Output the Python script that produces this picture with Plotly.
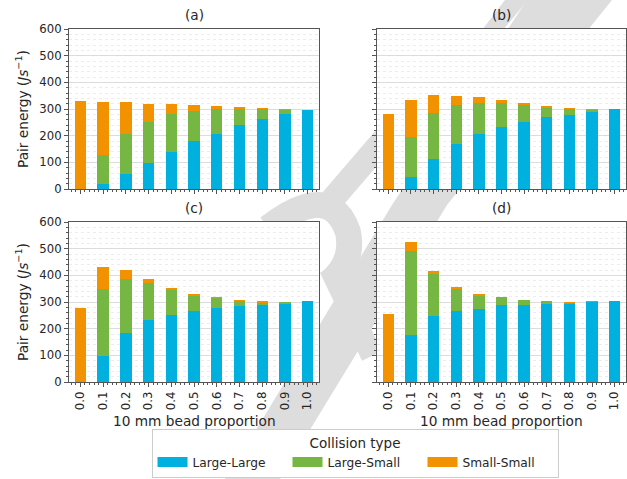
import plotly.graph_objects as go

W, H = 627, 479

# ---- data -------------------------------------------------------------
proportions = [0.0, 0.1, 0.2, 0.3, 0.4, 0.5, 0.6, 0.7, 0.8, 0.9, 1.0]
tick_labels = ["0.0", "0.1", "0.2", "0.3", "0.4", "0.5", "0.6", "0.7", "0.8", "0.9", "1.0"]
collision_types = ["Large-Large", "Large-Small", "Small-Small"]
colors = ["#00b1e0", "#76b743", "#f39200"]
panel_titles = ["(a)", "(b)", "(c)", "(d)"]

a_large_large = [0, 19, 57, 97, 140, 179, 207, 239, 264, 281, 297]
a_large_small = [0, 107, 150, 153, 141, 115, 92, 62, 37, 17, 0]
a_small_small = [329, 200, 119, 70, 39, 21, 12, 4, 1, 2, 0]

b_large_large = [0, 44, 114, 167, 205, 232, 251, 269, 279, 289, 300]
b_large_small = [0, 152, 172, 149, 119, 92, 64, 37, 22, 9, 0]
b_small_small = [281, 136, 68, 34, 21, 8, 5, 3, 1, 1, 0]

c_large_large = [0, 99, 182, 232, 250, 266, 279, 284, 287, 296, 302]
c_large_small = [0, 249, 203, 140, 96, 59, 37, 20, 12, 3, 0]
c_small_small = [277, 83, 34, 13, 5, 6, 2, 3, 3, 0, 0]

d_large_large = [0, 177, 246, 265, 275, 289, 289, 292, 295, 300, 302]
d_large_small = [0, 314, 160, 86, 51, 29, 17, 10, 4, 1, 0]
d_small_small = [256, 33, 10, 4, 1, 0, 0, 0, 1, 0, 0]

panels = [
    (a_large_large, a_large_small, a_small_small),
    (b_large_large, b_large_small, b_small_small),
    (c_large_large, c_large_small, c_small_small),
    (d_large_large, d_large_small, d_small_small),
]

# ---- geometry (pixel boxes of the four axes) -------------------------
boxes = [(69, 319, 29, 189), (377, 626, 29, 189), (69, 319, 222, 382), (377, 626, 222, 382)]

TEXT = "#262626"
AXIS = "#555555"
FONT = "DejaVu Sans"

fig = go.Figure()

for i, series in enumerate(panels):
    xa = "x" if i == 0 else f"x{i + 1}"
    ya = "y" if i == 0 else f"y{i + 1}"
    for name, vals, col in zip(collision_types, series, colors):
        fig.add_trace(go.Bar(
            x=proportions, y=vals, name=name, width=0.05,
            marker=dict(color=col, line=dict(width=0)),
            xaxis=xa, yaxis=ya, showlegend=False,
        ))

# legend entries drawn as wide swatches
for name, col in zip(collision_types, colors):
    fig.add_trace(go.Scatter(
        x=[None], y=[None], mode="lines", name=name,
        line=dict(color=col, width=10), showlegend=True,
    ))

layout = dict(
    width=W, height=H,
    margin=dict(l=0, r=0, t=0, b=0),
    paper_bgcolor="white", plot_bgcolor="white",
    font=dict(family=FONT, color=TEXT, size=12),
    barmode="stack", bargap=0,
    showlegend=True,
    legend=dict(
        orientation="h", traceorder="normal",
        x=355 / W, xanchor="center",
        y=1 - 478 / H, yanchor="bottom",
        bgcolor="white", bordercolor="#cccccc", borderwidth=1,
        font=dict(size=12.2, color=TEXT, family=FONT),
        title=dict(text="Collision type", side="top center",
                   font=dict(size=13.5, color=TEXT, family=FONT)),
        itemwidth=30, entrywidth=90, entrywidthmode="pixels", tracegroupgap=0,
    ),
)

annotations = []

for i, (x0, x1, y0, y1) in enumerate(boxes):
    suffix = "" if i == 0 else str(i + 1)
    left_col = i in (0, 2)
    bottom_row = i in (2, 3)
    layout["xaxis" + suffix] = dict(
        domain=[x0 / W, x1 / W], anchor="y" + suffix,
        range=[-0.05, 1.05], tickvals=proportions, ticktext=tick_labels,
        showticklabels=bottom_row, tickangle=-90,
        ticks="outside", ticklen=4, tickwidth=1, tickcolor=AXIS,
        showline=True, linecolor=AXIS, linewidth=1, mirror=True,
        showgrid=False, zeroline=False,
        tickfont=dict(size=11.7, color=TEXT, family=FONT),
        minor=dict(ticks="outside", dtick=0.02, tick0=0, ticklen=2.4,
                   tickcolor=AXIS, showgrid=False),
        automargin=False,
    )
    layout["yaxis" + suffix] = dict(
        domain=[1 - y1 / H, 1 - y0 / H], anchor="x" + suffix,
        range=[0, 600], tickvals=[0, 100, 200, 300, 400, 500, 600],
        showticklabels=left_col,
        ticks="outside", ticklen=4, tickwidth=1, tickcolor=AXIS,
        showline=True, linecolor=AXIS, linewidth=1, mirror=True,
        showgrid=True, gridcolor="#dcdcdc", gridwidth=1, zeroline=False,
        tickfont=dict(size=11.7, color=TEXT, family=FONT),
        minor=dict(ticks="outside", dtick=20, ticklen=2.4, tickcolor=AXIS,
                   showgrid=True, gridcolor="#ececec", gridwidth=0.6, griddash="dot"),
        automargin=False,
    )
    cx = (x0 + x1) / 2
    annotations.append(dict(text=panel_titles[i], x=cx / W, y=1 - (y0 - 14) / H,
                            xref="paper", yref="paper", showarrow=False,
                            xanchor="center", yanchor="middle",
                            font=dict(size=13.7, color=TEXT, family=FONT)))
    if left_col:
        annotations.append(dict(text="Pair energy (<i>Js</i><sup>−1</sup>)",
                                x=22 / W, y=1 - ((y0 + y1) / 2) / H,
                                xref="paper", yref="paper", showarrow=False,
                                textangle=-90, xanchor="center", yanchor="middle",
                                font=dict(size=13.7, color=TEXT, family=FONT)))
    if bottom_row:
        annotations.append(dict(text="10 mm bead proportion",
                                x=cx / W, y=1 - 421 / H,
                                xref="paper", yref="paper", showarrow=False,
                                xanchor="center", yanchor="middle",
                                font=dict(size=13.7, color=TEXT, family=FONT)))

# ---- light grey page watermark, kept outside the axes faces ------------
WM = "#dddddd"

def stroke(points, width):
    """Outline of a polyline drawn with the given width."""
    half = width / 2
    left, right = [], []
    for k, (x, y) in enumerate(points):
        xa, ya = points[max(k - 1, 0)]
        xb, yb = points[min(k + 1, len(points) - 1)]
        dx, dy = xb - xa, yb - ya
        norm = (dx * dx + dy * dy) ** 0.5 or 1.0
        nx, ny = -dy / norm * half, dx / norm * half
        left.append((x + nx, y + ny))
        right.append((x - nx, y - ny))
    return left + right[::-1]

def quad(p0, p1, p2, steps=12):
    return [((1 - t) ** 2 * p0[0] + 2 * (1 - t) * t * p1[0] + t ** 2 * p2[0],
             (1 - t) ** 2 * p0[1] + 2 * (1 - t) * t * p1[1] + t ** 2 * p2[1])
            for t in [s / steps for s in range(steps + 1)]]

def clip_edge(poly, inside, cut):
    out = []
    for k in range(len(poly)):
        cur, prev = poly[k], poly[k - 1]
        if inside(cur):
            if not inside(prev):
                out.append(cut(prev, cur))
            out.append(cur)
        elif inside(prev):
            out.append(cut(prev, cur))
    return out

def clip(poly, x0, x1, y0, y1):
    """Sutherland-Hodgman clip of a polygon to an axis-aligned rectangle."""
    def at_x(xc):
        return lambda a, b: (xc, a[1] + (b[1] - a[1]) * (xc - a[0]) / (b[0] - a[0]))
    def at_y(yc):
        return lambda a, b: (a[0] + (b[0] - a[0]) * (yc - a[1]) / (b[1] - a[1]), yc)
    poly = clip_edge(poly, lambda p: p[0] >= x0, at_x(x0))
    if poly:
        poly = clip_edge(poly, lambda p: p[0] <= x1, at_x(x1))
    if poly:
        poly = clip_edge(poly, lambda p: p[1] >= y0, at_y(y0))
    if poly:
        poly = clip_edge(poly, lambda p: p[1] <= y1, at_y(y1))
    return poly

bowl = quad((268, 228), (330, 180), (348, 232)) + quad((348, 232), (354, 262), (330, 282))[1:]
watermark = [
    [(527, 0), (612, 0), (447, 205), (322, 410), (280, 479), (225, 479), (262, 420), (392, 205)],
    [(482, 30), (503, 30), (528, 0), (505, 0)],
    stroke([(325, 208), (385, 138)], 24),
    stroke(bowl, 26),
    stroke([(330, 268), (372, 356)], 22),
]

# page regions not covered by an axes face
strips = [(0, W, 0, 28), (0, W, 190, 221), (0, W, 383, H),
          (320, 376, 28, 190), (320, 376, 221, 383)]

shapes = []
for piece in watermark:
    for sx0, sx1, sy0, sy1 in strips:
        part = clip(piece, sx0, sx1, sy0, sy1)
        if len(part) >= 3:
            path = "M " + " L ".join(f"{x / W:.5f},{1 - y / H:.5f}" for x, y in part) + " Z"
            shapes.append(dict(type="path", path=path, xref="paper", yref="paper",
                               fillcolor=WM, line=dict(width=0), layer="below"))

layout["shapes"] = shapes
layout["annotations"] = annotations
fig.update_layout(**layout)

fig.write_html("out.html")
